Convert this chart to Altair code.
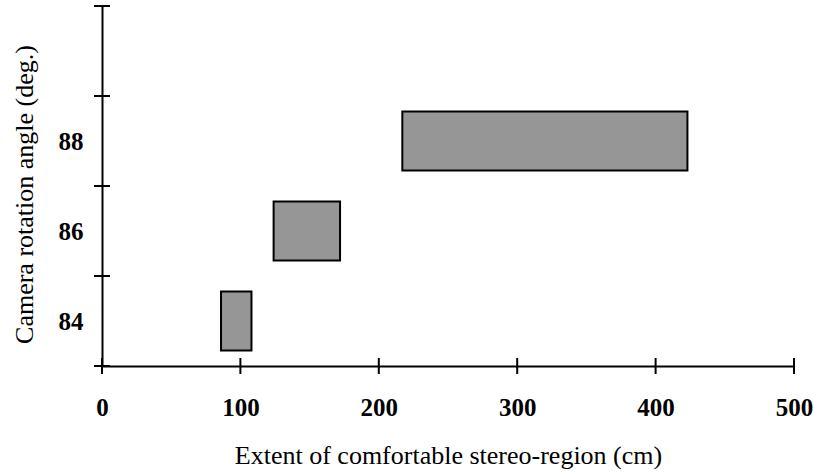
import altair as alt
import pandas as pd

# Data
angles = [84, 86, 88]                 # camera rotation angle (deg.)
extent_start = [86, 124, 217]         # start of comfortable stereo-region (cm)
extent_end = [108, 172, 423]          # end of comfortable stereo-region (cm)
x_tick_values = [0, 100, 200, 300, 400, 500]
y_tick_values = [83, 85, 87, 89, 91]  # band edges on the angle axis
y_label_values = [84, 86, 88]

bars_df = pd.DataFrame({"angle": angles, "start": extent_start, "end": extent_end})
xt_df = pd.DataFrame({"v": x_tick_values})
yt_df = pd.DataFrame({"v": y_tick_values})

W, H = 692, 360
FONT = "Liberation Serif"

x_scale = alt.Scale(domain=[0, 500], nice=False, zero=False, padding=0)
y_scale = alt.Scale(domain=[83, 91], nice=False, zero=False, padding=0)

x_axis = alt.Axis(
    values=x_tick_values, format="d", ticks=False, grid=False,
    domainColor="black", domainWidth=2, labelFlush=False, labelOverlap=False,
    labelFont=FONT, labelFontSize=25, labelFontWeight="bold", labelColor="black",
    labelPadding=29,
    title="Extent of comfortable stereo-region (cm)",
    titleFont=FONT, titleFontSize=26, titleFontWeight="normal", titleColor="black",
    titleY=97, titleBaseline="alphabetic",
)
y_axis = alt.Axis(
    values=y_label_values, format="d", ticks=False, grid=False,
    domainColor="black", domainWidth=2, labelFlush=False, labelOverlap=False,
    labelFont=FONT, labelFontSize=25, labelFontWeight="bold", labelColor="black",
    labelPadding=19,
    title="Camera rotation angle (deg.)",
    titleFont=FONT, titleFontSize=26, titleFontWeight="normal", titleColor="black",
    titleAngle=270, titleX=-70, titleY=188, titleAlign="center", titleBaseline="alphabetic",
)

bars = alt.Chart(bars_df).mark_bar(
    size=59, fill="#969696", stroke="black", strokeWidth=2
).encode(
    x=alt.X("start:Q", scale=x_scale, axis=x_axis),
    x2="end:Q",
    y=alt.Y("angle:Q", scale=y_scale, axis=y_axis),
)

x_ticks = alt.Chart(xt_df).mark_rule(color="black", strokeWidth=2).encode(
    x=alt.X("v:Q", scale=x_scale, axis=x_axis),
    y=alt.value(H - 8),
    y2=alt.value(H + 8),
)

y_ticks = alt.Chart(yt_df).mark_rule(color="black", strokeWidth=2).encode(
    y=alt.Y("v:Q", scale=y_scale, axis=y_axis),
    x=alt.value(-8),
    x2=alt.value(8),
)

chart = alt.layer(bars, x_ticks, y_ticks).properties(
    width=W, height=H,
    autosize=alt.AutoSizeParams(type="none"),
    padding={"left": 102, "top": 6, "right": 23, "bottom": 108},
    background="white",
).configure_view(stroke=None)

chart.save("out.html", embed_options={"renderer": "svg", "actions": False})
